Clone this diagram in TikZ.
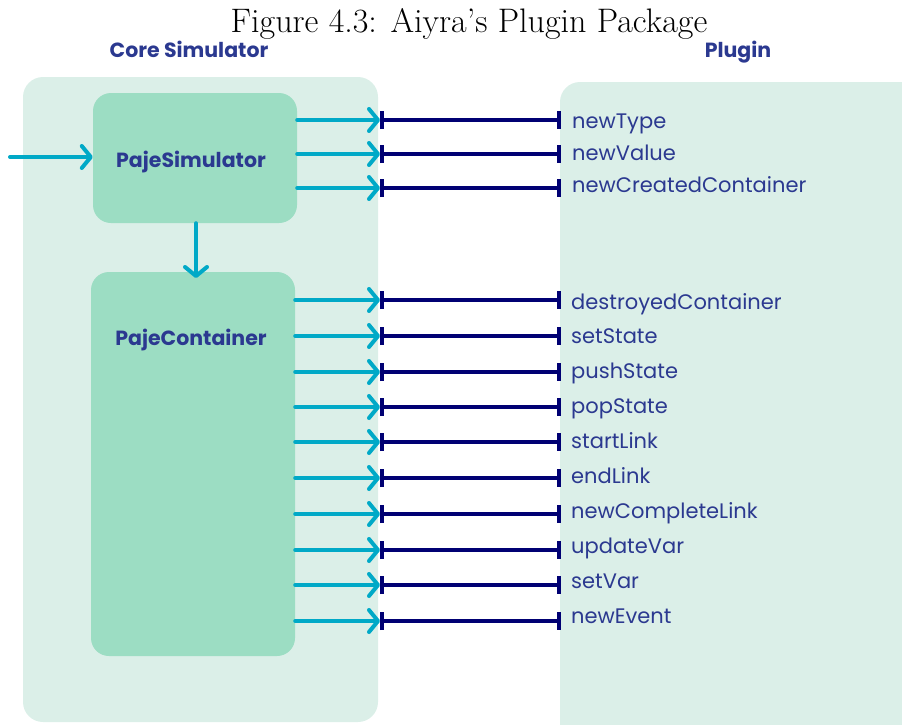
\documentclass[tikz,border=0pt]{standalone}
\usepackage{fontspec}
\newfontfamily\gfont{Poppins}
\usetikzlibrary{arrows.meta}
\definecolor{mintlight}{HTML}{DBEFE8}
\definecolor{mintbox}{HTML}{9CDDC3}
\definecolor{arrowcyan}{HTML}{00A9C7}
\definecolor{barnavy}{HTML}{000073}
\definecolor{textblue}{HTML}{2B3990}
\begin{document}
\begin{tikzpicture}[x=1pt,y=-1pt,
  panel/.style={fill=mintlight, rounded corners=20pt},
  boxnode/.style={fill=mintbox, rounded corners=18pt, inner sep=0pt},
  boxlab/.style={font=\gfont\bfseries\fontsize{20.5}{22}\selectfont, text=textblue, inner sep=0pt, anchor=base},
  headlab/.style={font=\gfont\bfseries\fontsize{20.5}{22}\selectfont, text=textblue, inner sep=0pt, anchor=base},
  evlab/.style={font=\gfont\fontsize{21}{23}\selectfont, text=textblue, inner sep=0pt, anchor=base west},
  cyarrow/.style={draw=arrowcyan, line width=4pt, line cap=round, -{Straight Barb[length=9pt,width=22pt,round]}},
  navybar/.style={draw=barnavy, line width=3.5pt, {Bar[width=18pt,line width=4pt]}-{Bar[width=18pt,line width=4pt]}}
]
\useasboundingbox (0,0) rectangle (902,724);
\clip (0,0) rectangle (902,724);
% title
\node[font=\fontsize{34}{38}\selectfont, inner sep=0pt, anchor=base] (title) at (469,32) {Figure 4.3: Aiyra’s Plugin Package};
\node[headlab] (hcore) at (189,57) {Core Simulator};
\node[headlab] (hplug) at (738,57) {Plugin};
% panels
\fill[panel] (23,77) rectangle (378,722);
\fill[panel] (560,82) rectangle (940,760);
% boxes
\node[boxnode, minimum width=204pt, minimum height=130pt] (sim) at (195,158) {};
\node[boxlab] (simlab) at (191,167) {PajeSimulator};
\node[boxnode, minimum width=204pt, minimum height=384pt] (cont) at (193,464) {};
\node[boxlab] (contlab) at (191,345) {PajeContainer};
% input and down arrows
\coordinate (in) at (10,157);
\draw[cyarrow] (in) -- (in -| sim.west);
\coordinate (dn) at (196,278);
\draw[cyarrow] (dn |- sim.south) -- (dn);
% first group
\foreach \y/\b/\n/\t in {120/128/1/newType,154/160/2/newValue,188/192/3/newCreatedContainer}{
  \coordinate (a\n) at (380,\y);
  \coordinate (b\n) at (561,\y);
  \draw[cyarrow] (sim.east |- a\n) -- (a\n);
  \draw[navybar] (a\n) -- (b\n);
  \node[evlab] (l\n) at (572,\b) {\t};
}
% second group
\foreach \y/\b/\n/\t in {300/309/4/destroyedContainer,336/343/5/setState,372/378/6/pushState,407/413/7/popState,442/448/8/startLink,478/483/9/endLink,514/518/10/newCompleteLink,550/553/11/updateVar,585/588/12/setVar,621/623/13/newEvent}{
  \coordinate (a\n) at (380,\y);
  \coordinate (b\n) at (561,\y);
  \draw[cyarrow] (cont.east |- a\n) -- (a\n);
  \draw[navybar] (a\n) -- (b\n);
  \node[evlab] (l\n) at (571,\b) {\t};
}
\end{tikzpicture}
\end{document}
